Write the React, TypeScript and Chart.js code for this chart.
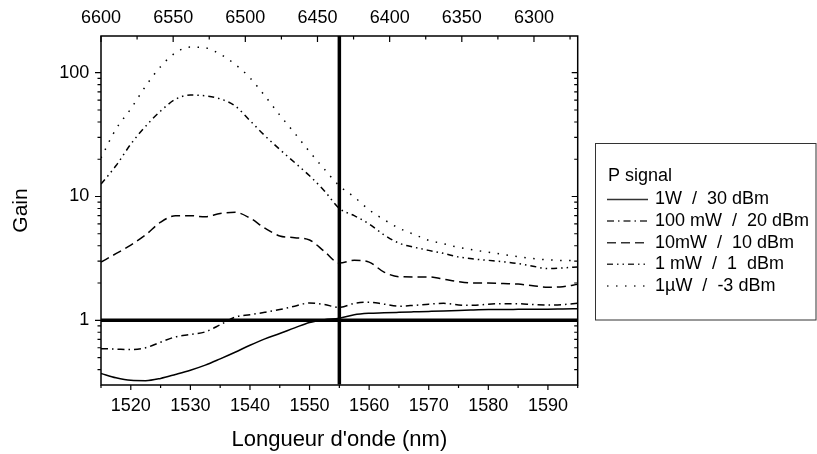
import { useEffect, useRef } from 'react';
import { Chart, registerables } from 'chart.js';

Chart.register(...registerables);

const FONT = '"Liberation Sans", Arial, Helvetica, sans-serif';

// longueur d'onde (nm), pas de 2.5 nm
const WAVELENGTH = [
  1515, 1517.5, 1520, 1522.5, 1525, 1527.5, 1530, 1532.5, 1535, 1537.5, 1540,
  1542.5, 1545, 1547.5, 1550, 1552.5, 1555, 1557.5, 1560, 1562.5, 1565, 1567.5,
  1570, 1572.5, 1575, 1577.5, 1580, 1582.5, 1585, 1587.5, 1590, 1592.5, 1595,
];

const GAIN_1W = [
  0.372, 0.343, 0.327, 0.325, 0.339, 0.365, 0.395, 0.434, 0.488, 0.552, 0.629,
  0.708, 0.781, 0.868, 0.96, 1.01, 1.04, 1.11, 1.14, 1.15, 1.16, 1.17,
  1.18, 1.19, 1.2, 1.21, 1.22, 1.22, 1.225, 1.23, 1.23, 1.235, 1.24,
];

const GAIN_100MW = [
  0.59, 0.585, 0.58, 0.6, 0.665, 0.735, 0.767, 0.806, 0.92, 1.06, 1.11,
  1.16, 1.22, 1.3, 1.38, 1.34, 1.27, 1.37, 1.4, 1.35, 1.3, 1.32,
  1.35, 1.37, 1.33, 1.32, 1.35, 1.36, 1.36, 1.34, 1.33, 1.34, 1.37,
];

const GAIN_10MW = [
  2.95, 3.45, 4.05, 4.9, 6.2, 7.0, 7.0, 6.85, 7.3, 7.45, 6.7,
  5.55, 4.8, 4.65, 4.45, 3.6, 2.9, 3.05, 2.95, 2.45, 2.25, 2.24,
  2.24, 2.15, 2.05, 2.0, 2.0, 1.98, 1.96, 1.9, 1.85, 1.87, 1.95,
];

const GAIN_1MW = [
  12.6, 17.7, 26.5, 37, 49, 61, 66, 65, 61.5, 54, 41,
  31, 24, 18.8, 14.7, 11.1, 8.0, 7.0, 6.0, 4.9, 4.2, 3.9,
  3.67, 3.47, 3.25, 3.13, 3.05, 2.97, 2.87, 2.73, 2.62, 2.65, 2.7,
];

const GAIN_1UW = [
  20.5, 35, 51, 78, 112, 145, 161, 159, 141, 117, 91,
  65, 45.5, 32.5, 23, 16.6, 12.2, 9.9, 7.8, 6.5, 5.55, 4.95,
  4.43, 4.15, 3.88, 3.7, 3.55, 3.4, 3.26, 3.15, 3.08, 3.04, 3.05,
];

const SERIES_LABELS = [
  '1W  /  30 dBm',
  '100 mW  /  20 dBm',
  '10mW  /  10 dBm',
  '1 mW  /  1  dBm',
  '1\u00b5W  /  -3 dBm',
];
const SERIES_VALUES = [GAIN_1W, GAIN_100MW, GAIN_10MW, GAIN_1MW, GAIN_1UW];
const SERIES_DASH = [[], [7, 4, 1.5, 4], [9, 5], [6, 4, 1.5, 4, 1.5, 4], [1.5, 7.5]];

// axes
const X_MIN = 1515;
const X_MAX = 1595;
const X_TICKS = [1520, 1530, 1540, 1550, 1560, 1570, 1580, 1590];
const X_MINOR_TICKS = [1515, 1525, 1535, 1545, 1555, 1565, 1575, 1585, 1595];
const TOP_MIN = 6269.7;
const TOP_MAX = 6600;
const TOP_TICKS = [6300, 6350, 6400, 6450, 6500, 6550, 6600];
const TOP_MINOR_TICKS = [6275, 6325, 6375, 6425, 6475, 6525, 6575];
const Y_MIN = 0.303;
const Y_MAX = 198;
const Y_TICKS = [1, 10, 100];
const Y_MINOR_TICKS = [0.4, 0.5, 0.6, 0.7, 0.8, 0.9, 2, 3, 4, 5, 6, 7, 8, 9, 20, 30, 40, 50, 60, 70, 80, 90];

// lignes de référence
const REF_WAVELENGTH = 1555;
const REF_GAIN = 1;

const axisFrame = {
  id: 'axisFrame',
  afterDatasetsDraw(chart: any) {
    const { ctx, chartArea, scales } = chart;
    const { left, right, top, bottom } = chartArea;
    ctx.save();
    ctx.strokeStyle = '#000';
    ctx.lineWidth = 1.5;
    ctx.strokeRect(left, top, right - left, bottom - top);
    ctx.lineWidth = 1.2;
    ctx.beginPath();
    const xt = (vals: number[], len: number) => vals.forEach(v => {
      const px = scales.x.getPixelForValue(v);
      ctx.moveTo(px, bottom); ctx.lineTo(px, bottom + len);
    });
    const tt = (vals: number[], len: number) => vals.forEach(v => {
      const px = scales.xTop.getPixelForValue(v);
      ctx.moveTo(px, top); ctx.lineTo(px, top + len);
    });
    const yt = (vals: number[], len: number) => vals.forEach(v => {
      const py = scales.y.getPixelForValue(v);
      ctx.moveTo(left, py); ctx.lineTo(left - len, py);
      ctx.moveTo(right, py); ctx.lineTo(right - len, py);
    });
    xt(X_TICKS, 5); xt(X_MINOR_TICKS, 3);
    tt(TOP_TICKS, 6); tt(TOP_MINOR_TICKS, 3.5);
    yt(Y_TICKS, 6); yt(Y_MINOR_TICKS, 3.5);
    ctx.stroke();
    ctx.restore();
  },
};

const legendBox = {
  id: 'legendBox',
  afterDraw(chart: any) {
    const { ctx } = chart;
    ctx.save();
    ctx.strokeStyle = '#333';
    ctx.lineWidth = 1;
    ctx.strokeRect(595.5, 143.5, 220.5, 176.5);
    ctx.fillStyle = '#000';
    ctx.font = `18px ${FONT}`;
    ctx.textBaseline = 'middle';
    ctx.textAlign = 'left';
    ctx.fillText('P signal', 608, 176);
    SERIES_LABELS.forEach((label, i) => {
      const y = 199.5 + i * 21.6;
      ctx.beginPath();
      ctx.lineWidth = 1.5;
      ctx.setLineDash(SERIES_DASH[i]);
      ctx.moveTo(607, y);
      ctx.lineTo(648, y);
      ctx.stroke();
      ctx.setLineDash([]);
      ctx.fillText(label, 655, y);
    });
    ctx.restore();
  },
};

export default function App() {
  const canvasRef = useRef<HTMLCanvasElement>(null);

  useEffect(() => {
    if (!canvasRef.current) return;

    const datasets: any[] = [
      {
        label: 'ref-h',
        data: [{ x: X_MIN, y: REF_GAIN }, { x: X_MAX, y: REF_GAIN }],
        borderColor: '#000',
        borderWidth: 3.5,
        pointRadius: 0,
      },
      {
        label: 'ref-v',
        data: [{ x: REF_WAVELENGTH, y: Y_MIN }, { x: REF_WAVELENGTH, y: Y_MAX }],
        borderColor: '#000',
        borderWidth: 3.5,
        pointRadius: 0,
      },
      ...SERIES_VALUES.map((vals, i) => ({
        label: SERIES_LABELS[i],
        data: WAVELENGTH.map((w, j) => ({ x: w, y: vals[j] })),
        borderColor: '#000',
        borderWidth: 1.5,
        borderDash: SERIES_DASH[i],
        pointRadius: 0,
        cubicInterpolationMode: 'monotone',
      })),
    ];

    const tickFont = { family: FONT, size: 18 };

    const chart = new Chart(canvasRef.current, {
      type: 'line',
      data: { datasets },
      options: {
        responsive: false,
        animation: false,
        layout: { padding: { left: 0, top: 0, bottom: 0, right: 239.3 } },
        plugins: { legend: { display: false }, tooltip: { enabled: false } },
        scales: {
          x: {
            type: 'linear',
            position: 'bottom',
            min: X_MIN,
            max: X_MAX,
            afterBuildTicks: (s: any) => { s.ticks = X_TICKS.map(v => ({ value: v })); },
            afterFit: (s: any) => { s.height = 69; },
            grid: { display: false, drawTicks: false },
            border: { display: false },
            ticks: { font: tickFont, color: '#000', padding: 10.5, maxRotation: 0, autoSkip: false, callback: (v: any) => String(v) },
            title: { display: true, text: "Longueur d'onde (nm)", color: '#000', font: { family: FONT, size: 22 }, padding: { top: 0, bottom: 1 } },
          },
          xTop: {
            type: 'linear',
            position: 'top',
            min: TOP_MIN,
            max: TOP_MAX,
            reverse: true,
            afterBuildTicks: (s: any) => { s.ticks = TOP_TICKS.map(v => ({ value: v })); },
            afterFit: (s: any) => { s.height = 36; },
            grid: { display: false, drawTicks: false },
            border: { display: false },
            ticks: { font: tickFont, color: '#000', padding: 7, maxRotation: 0, autoSkip: false, callback: (v: any) => String(v) },
          },
          y: {
            type: 'logarithmic',
            position: 'left',
            min: Y_MIN,
            max: Y_MAX,
            afterBuildTicks: (s: any) => { s.ticks = Y_TICKS.map(v => ({ value: v })); },
            afterFit: (s: any) => { s.width = 101; },
            grid: { display: false, drawTicks: false },
            border: { display: false },
            ticks: { font: tickFont, color: '#000', padding: 11.7, autoSkip: false, callback: (v: any) => String(v) },
            title: { display: true, text: 'Gain', color: '#000', font: { family: FONT, size: 21 }, padding: { top: 9, bottom: 0 } },
          },
        },
      } as any,
      plugins: [axisFrame, legendBox],
    });

    return () => chart.destroy();
  }, []);

  return (
    <div style={{ position: 'fixed', left: 0, top: 0, width: 817, height: 454, background: '#fff' }}>
      <canvas ref={canvasRef} width={817} height={454} />
    </div>
  );
}
